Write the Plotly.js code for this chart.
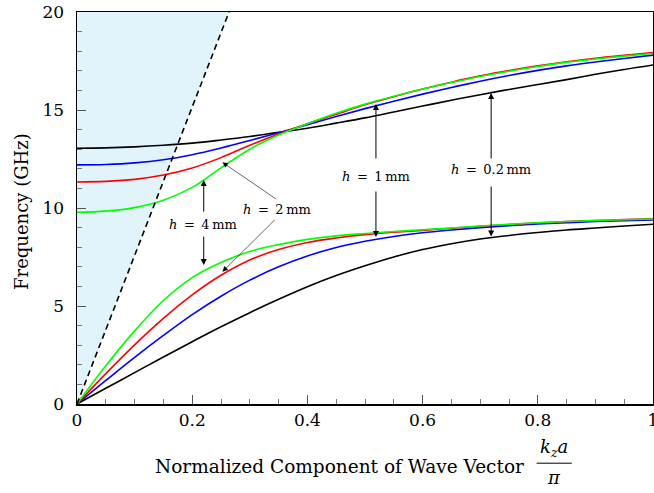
<!DOCTYPE html>
<html>
<head>
<meta charset="utf-8">
<script src="https://cdn.plot.ly/plotly-3.0.1.min.js"></script>
<style>html,body{margin:0;padding:0;background:#fff;}#chart{width:654px;height:493px;}</style>
</head>
<body>
<div id="chart"></div>
<script>
// Normalized wave vector k_z a / pi
const kz = [0, 0.05, 0.1, 0.15, 0.2, 0.25, 0.3, 0.35, 0.4, 0.45, 0.5, 0.55, 0.6, 0.65, 0.7, 0.75, 0.8, 0.85, 0.9, 0.95, 1.0];

// Upper band (second mode), GHz
const upper_h02 = [13.05, 13.07, 13.12, 13.2, 13.31, 13.47, 13.65, 13.86, 14.07, 14.33, 14.6, 14.9, 15.2, 15.5, 15.78, 16.05, 16.3, 16.55, 16.82, 17.07, 17.3];
const upper_h1  = [12.2, 12.22, 12.3, 12.46, 12.72, 13.06, 13.44, 13.84, 14.25, 14.67, 15.07, 15.45, 15.81, 16.15, 16.47, 16.76, 17.02, 17.25, 17.45, 17.63, 17.8];
const upper_h2  = [11.33, 11.36, 11.46, 11.68, 12.04, 12.57, 13.2, 13.78, 14.3, 14.78, 15.27, 15.68, 16.07, 16.42, 16.74, 17.01, 17.25, 17.46, 17.64, 17.79, 17.93];
const upper_h4  = [9.78, 9.84, 10.02, 10.4, 11.05, 12.05, 13.0, 13.72, 14.3, 14.83, 15.3, 15.7, 16.07, 16.4, 16.71, 16.98, 17.22, 17.43, 17.6, 17.75, 17.88];

// Lower band (fundamental mode), GHz
const lower_h02 = [0, 0.8, 1.6, 2.4, 3.18, 3.94, 4.66, 5.34, 5.98, 6.55, 7.05, 7.5, 7.88, 8.18, 8.42, 8.6, 8.75, 8.88, 8.98, 9.08, 9.17];
const lower_h1  = [0, 1.2, 2.38, 3.5, 4.56, 5.5, 6.32, 7.0, 7.55, 7.98, 8.3, 8.55, 8.74, 8.88, 9.0, 9.1, 9.18, 9.25, 9.31, 9.35, 9.39];
const lower_h2  = [0, 1.55, 3.02, 4.37, 5.57, 6.57, 7.35, 7.88, 8.24, 8.47, 8.64, 8.76, 8.86, 8.97, 9.07, 9.16, 9.24, 9.31, 9.36, 9.41, 9.45];
const lower_h4  = [0, 1.95, 3.73, 5.28, 6.45, 7.22, 7.78, 8.13, 8.4, 8.58, 8.7, 8.8, 8.89, 8.98, 9.08, 9.17, 9.25, 9.31, 9.36, 9.4, 9.44];

// Light line
const lightX = [0, 0.264];
const lightY = [0, 20];

const labels = ['h = 0.2 mm', 'h = 1 mm', 'h = 2 mm', 'h = 4 mm'];
const colors = ['#000000', '#0000ff', '#ff0000', '#00ff00'];
const uppers = [upper_h02, upper_h1, upper_h2, upper_h4];
const lowers = [lower_h02, lower_h1, lower_h2, lower_h4];

const traces = [];
// shaded region above light line
traces.push({
  x: [lightX[0], lightX[1], 0], y: [lightY[0], lightY[1], lightY[1]],
  mode: 'lines', fill: 'toself', fillcolor: 'rgb(225,243,251)',
  line: {width: 0}, hoverinfo: 'skip', showlegend: false
});
for (let i = 0; i < 4; i++) {
  traces.push({x: kz, y: lowers[i], mode: 'lines', name: labels[i],
    line: {color: colors[i], width: 1.6, shape: 'spline', smoothing: 1}, showlegend: false});
}
for (let i = 0; i < 4; i++) {
  traces.push({x: kz, y: uppers[i], mode: 'lines', name: labels[i],
    line: {color: colors[i], width: 1.6, shape: 'spline', smoothing: 1}, showlegend: false});
}
traces.push({x: lightX, y: lightY, mode: 'lines', line: {color: '#000', width: 1.6, dash: '6px,4px'}, showlegend: false});

const F = "DejaVu Serif";
const arrowStyle = {showarrow: true, arrowhead: 2, arrowsize: 1.2, arrowwidth: 1, arrowcolor: '#000', axref: 'x', ayref: 'y', text: ''};
const thinArrow = {showarrow: true, arrowhead: 2, arrowsize: 1.8, arrowwidth: 0.6, arrowcolor: '#000', axref: 'x', ayref: 'y', text: ''};
const lab = (v) => '<i>h</i>\u2002=\u2002' + v + '\u2009mm';
const afont = {family: F, size: 13, color: '#000'};

const annotations = [
  // h = 4 mm
  {x: 0.2184, y: 9.18, text: lab('4'), showarrow: false, font: afont},
  Object.assign({x: 0.22, y: 11.43, ax: 0.22, ay: 9.74}, arrowStyle),
  Object.assign({x: 0.22, y: 7.09, ax: 0.22, ay: 8.62}, arrowStyle),
  // h = 2 mm
  {x: 0.348, y: 9.9, text: lab('2'), showarrow: false, font: afont},
  Object.assign({x: 0.2525, y: 12.33, ax: 0.348, ay: 10.41}, thinArrow),
  Object.assign({x: 0.2525, y: 6.75, ax: 0.346, ay: 9.47}, thinArrow),
  // h = 1 mm
  {x: 0.519, y: 11.63, text: lab('1'), showarrow: false, font: afont},
  Object.assign({x: 0.519, y: 15.3, ax: 0.519, ay: 12.45}, arrowStyle),
  Object.assign({x: 0.519, y: 8.52, ax: 0.519, ay: 10.92}, arrowStyle),
  // h = 0.2 mm
  {x: 0.719, y: 11.94, text: lab('0.2'), showarrow: false, font: afont},
  Object.assign({x: 0.719, y: 15.87, ax: 0.719, ay: 12.45}, arrowStyle),
  Object.assign({x: 0.719, y: 8.54, ax: 0.719, ay: 11.17}, arrowStyle),
  // axis titles
  {xref: 'paper', yref: 'paper', x: 0, y: 0.49, xshift: -55, textangle: -90, showarrow: false,
   text: 'Frequency (GHz)', font: {family: F, size: 18, color: '#000'}, xanchor: 'center', yanchor: 'middle'},
  {xref: 'paper', yref: 'paper', x: 0.456, y: 0, yshift: -62, showarrow: false,
   text: 'Normalized Component of Wave Vector', font: {family: F, size: 18.5, color: '#000'}, xanchor: 'center', yanchor: 'middle'},
  {xref: 'paper', yref: 'paper', x: 0.8285, y: 0, yshift: -44, showarrow: false,
   text: '<i>k<sub>z</sub>a</i>', font: {family: F, size: 18, color: '#000'}, xanchor: 'center', yanchor: 'middle'},
  {xref: 'paper', yref: 'paper', x: 0.8285, y: 0, yshift: -73, showarrow: false,
   text: '<i>π</i>', font: {family: F, size: 18, color: '#000'}, xanchor: 'center', yanchor: 'middle'}
];

const layout = {
  width: 654, height: 493,
  margin: {l: 77, r: 1, t: 12, b: 89},
  paper_bgcolor: '#fff', plot_bgcolor: '#fff',
  showlegend: false,
  xaxis: {range: [0, 1], tickvals: [0, 0.2, 0.4, 0.6, 0.8, 1], ticktext: ['0', '0.2', '0.4', '0.6', '0.8', '1'],
    ticks: 'inside', ticklen: 9, tickwidth: 1, tickcolor: '#555',
    minor: {ticks: 'inside', dtick: 0.05, ticklen: 5, tickcolor: '#777', tickwidth: 1},
    showline: true, linecolor: '#000', linewidth: 1.5, mirror: true, showgrid: false, zeroline: false,
    tickfont: {family: F, size: 17, color: '#000'}, ticklabeloverflow: 'allow', fixedrange: true},
  yaxis: {range: [0, 20], tickvals: [0, 5, 10, 15, 20],
    ticks: 'inside', ticklen: 9, tickwidth: 1, tickcolor: '#555',
    minor: {ticks: 'inside', dtick: 1, ticklen: 5, tickcolor: '#777', tickwidth: 1},
    showline: true, linecolor: '#000', linewidth: 1.5, mirror: true, showgrid: false, zeroline: false,
    tickfont: {family: F, size: 17, color: '#000'}, ticklabelstandoff: 8, ticklabeloverflow: 'allow', fixedrange: true},
  annotations: annotations,
  shapes: [{type: 'line', xref: 'paper', yref: 'paper', x0: 0.798, x1: 0.859, y0: -0.151, y1: -0.151,
    line: {color: '#000', width: 1}}]
};

Plotly.newPlot('chart', traces, layout, {displayModeBar: false, staticPlot: true});
</script>
</body>
</html>
